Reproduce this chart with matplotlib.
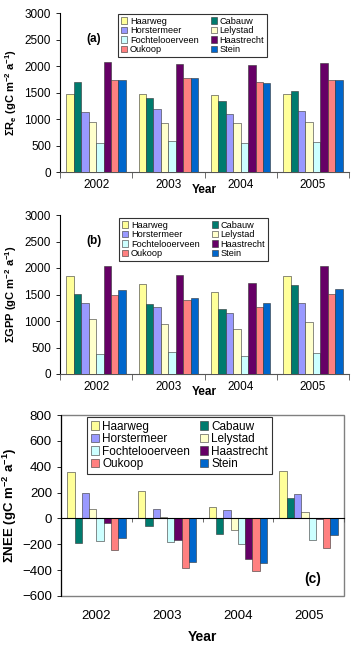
import numpy as np
import matplotlib
matplotlib.use('Agg')
import matplotlib.pyplot as plt

plt.rcParams['font.family'] = ['Liberation Sans', 'DejaVu Sans']
plt.rcParams['mathtext.fontset'] = 'custom'
plt.rcParams['mathtext.rm'] = 'Liberation Sans:bold'
plt.rcParams['mathtext.it'] = 'Liberation Sans:bold'
plt.rcParams['mathtext.bf'] = 'Liberation Sans:bold'

# Data
years = ['2002', '2003', '2004', '2005']
sites = ['Haarweg', 'Cabauw', 'Horstermeer', 'Lelystad',
         'Fochtelooerveen', 'Haastrecht', 'Oukoop', 'Stein']
colors = ['#FFFF99', '#007B6E', '#9999FF', '#FFFFCC',
          '#CCFFFF', '#660066', '#FF8080', '#0066CC']

# Reco per site (rows) per year (columns)
reco = [
    [1480, 1480, 1450, 1470],
    [1690, 1400, 1340, 1520],
    [1130, 1190, 1100, 1150],
    [950, 930, 930, 940],
    [550, 590, 540, 560],
    [2080, 2040, 2020, 2050],
    [1740, 1780, 1690, 1740],
    [1740, 1770, 1680, 1740],
]
gpp = [
    [1840, 1695, 1540, 1840],
    [1506, 1320, 1220, 1680],
    [1336, 1270, 1160, 1340],
    [1033, 940, 850, 990],
    [375, 420, 340, 400],
    [2035, 1860, 1710, 2040],
    [1490, 1400, 1270, 1510],
    [1594, 1440, 1340, 1610],
]
nee = [
    [356, 213, 92, 370],
    [-188, -60, -120, 158],
    [200, 72, 62, 188],
    [72, 10, -88, 48],
    [-173, -185, -195, -168],
    [-39, -170, -315, -5],
    [-245, -385, -410, -232],
    [-150, -335, -345, -130],
]

W, H = 352, 648
fig = plt.figure(figsize=(W / 100, H / 100), dpi=100)

x = np.arange(len(years))
bw = 0.103
order = [0, 2, 4, 6, 1, 3, 5, 7]


def bars(ax, data):
    handles = []
    for i, vals in enumerate(data):
        h = ax.bar(x + (i - 3.5) * bw, vals, bw, color=colors[i],
                   edgecolor='#333333', linewidth=0.4, label=sites[i], zorder=3)
        handles.append(h)
    return handles


def add_legend(ax, handles, left, top, fs, colsp):
    hs = [handles[i] for i in order]
    ls = [sites[i] for i in order]
    leg = ax.legend(hs, ls, ncol=2, loc='upper left',
                    bbox_to_anchor=(left / W, 1 - top / H),
                    bbox_transform=fig.transFigure, borderaxespad=0,
                    fontsize=fs, frameon=True, fancybox=False,
                    edgecolor='black', handlelength=0.7, handleheight=0.7,
                    handletextpad=0.3, columnspacing=colsp, labelspacing=0.05,
                    borderpad=0.3)
    leg.get_frame().set_linewidth(0.8)


def top_panel(ax, data, ylabel, tag, leg_left, leg_top):
    handles = bars(ax, data)
    ax.set_xlim(-0.5, 3.5)
    ax.set_ylim(0, 3000)
    ax.set_yticks(np.arange(0, 3001, 500))
    ax.set_xticks(x)
    ax.set_xticklabels(years, fontsize=8.5)
    ax.set_xticks(np.arange(-0.5, 4, 1), minor=True)
    ax.tick_params(axis='x', which='major', length=0, pad=5)
    ax.tick_params(axis='x', which='minor', length=4, width=0.6, color='#555555')
    ax.tick_params(axis='y', labelsize=8.5, length=3, width=0.6)
    for s in ['top', 'right']:
        ax.spines[s].set_visible(False)
    ax.spines['left'].set_linewidth(0.8)
    ax.spines['bottom'].set_color('#555555')
    ax.set_ylabel(ylabel, fontsize=8, fontweight='bold', labelpad=4)
    ax.set_xlabel('Year', fontsize=8.5, fontweight='bold', labelpad=-5)
    ax.text(0.09, 0.82, tag, transform=ax.transAxes, fontsize=8.5,
            fontweight='bold')
    add_legend(ax, handles, leg_left, leg_top, 6.6, 1.3)


ax1 = fig.add_axes([60 / W, 1 - 172 / H, 289 / W, 159 / H])
top_panel(ax1, reco, r'$\Sigma$R$_e$ (gC m$^{-2}$ a$^{-1}$)', '(a)', 118, 14)

ax2 = fig.add_axes([60 / W, 1 - 374 / H, 289 / W, 159 / H])
top_panel(ax2, gpp, r'$\Sigma$GPP (gC m$^{-2}$ a$^{-1}$)', '(b)', 119, 218)

# Panel c
ax3 = fig.add_axes([61 / W, 1 - 596 / H, 283 / W, 181 / H])
handles = bars(ax3, nee)
ax3.set_xlim(-0.5, 3.5)
ax3.set_ylim(-600, 800)
ax3.set_yticks(np.arange(-600, 801, 200))
ax3.tick_params(axis='y', labelsize=9.5, length=3, width=0.6)
ax3.spines['bottom'].set_position(('data', 0))
ax3.spines['bottom'].set_zorder(4)
ax3.spines['bottom'].set_linewidth(0.8)
ax3.set_xticks(np.arange(-0.5, 4, 1))
ax3.set_xticklabels([])
ax3.tick_params(axis='x', length=3, width=0.6, color='#555555')
for s in ['top', 'right']:
    ax3.spines[s].set_visible(False)
ax3.patch.set_edgecolor('#808080')
ax3.patch.set_linewidth(1.0)
sec = ax3.secondary_xaxis('bottom')
sec.set_xticks(x)
sec.set_xticklabels(years, fontsize=9.5)
sec.tick_params(length=0, pad=10)
sec.spines['bottom'].set_visible(False)
sec.set_xlabel('Year', fontsize=10, fontweight='bold', labelpad=6)
ax3.set_ylabel(r'$\Sigma$NEE (gC m$^{-2}$ a$^{-1}$)', fontsize=9.5,
               fontweight='bold', labelpad=2)
ax3.text(0.86, 0.07, '(c)', transform=ax3.transAxes, fontsize=10,
         fontweight='bold')
add_legend(ax3, handles, 87, 417, 8.5, 0.8)

fig.savefig('out.png', dpi=100)
